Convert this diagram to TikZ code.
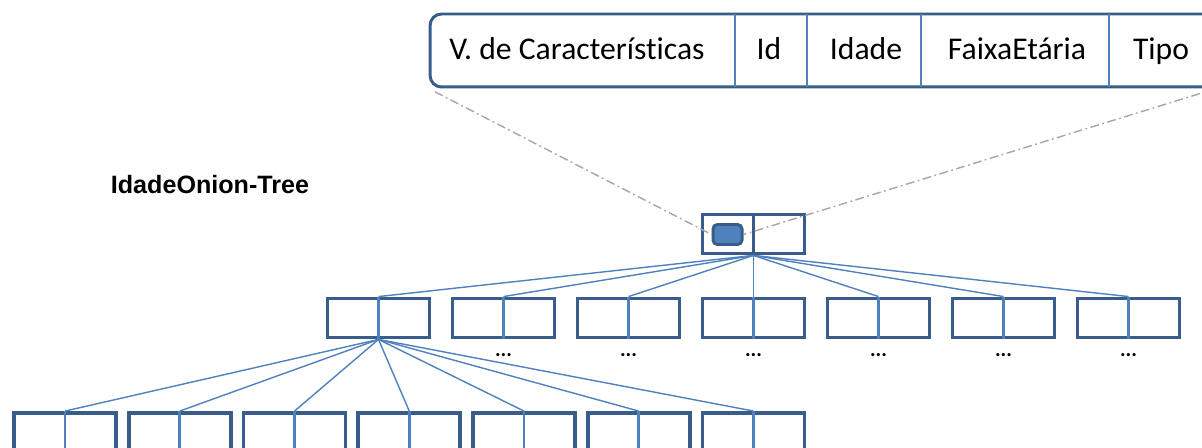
\documentclass[tikz,border=0pt]{standalone}
\usepackage{fontspec}
\setmainfont{Carlito}[Ligatures = NoCommon]
\newfontfamily\arialfont{Liberation Sans}
\usepackage{tikz}
\usetikzlibrary{calc}
\definecolor{AzulEscuro}{HTML}{385D8A}
\definecolor{AzulClaro}{HTML}{4F81BD}
\definecolor{CinzaTraco}{HTML}{A6A6A6}

\tikzset{
  caixa/.style = {draw = AzulEscuro, line width = 2.2pt, minimum width = 2.04cm, minimum height = .78cm, inner sep = 0pt},
  divisor/.style = {draw = AzulClaro, line width = 1.6pt},
  ramo/.style = {draw = AzulClaro, line width = .8pt},
  traco/.style = {draw = CinzaTraco, line width = .8pt, dash pattern = on 5pt off 2pt on 1pt off 2pt},
  campo/.style = {font = \fontsize{18}{22}\selectfont, inner sep = 0pt, anchor = base}
}

\begin{document}
\begin{tikzpicture}[x = .02cm, y = -.02cm]
  \useasboundingbox (0,0) rectangle (1202,448);
  \clip (0,0) rectangle (1202,448);

  % title
  \node[font = \arialfont\bfseries\fontsize{14.3}{17}\selectfont] (titulo) at (210,185) {IdadeOnion-Tree};

  % feature vector
\begin{scope}
    \node[draw = AzulEscuro, line width = 1.7pt, rounded corners = 6.5pt, minimum width = 15.7cm, minimum height = 1.46cm] (vetor) at (822.5,50.5) {};
    \foreach \x in {735, 807, 921, 1109}
      \draw[draw = AzulClaro, line width = .7pt, shorten <= .8pt, shorten >= .8pt] (\x,0 |- vetor.north) -- (\x,0 |- vetor.south);
    \node[campo] (c1) at (577,60) {V. de Características};
    \node[campo] (c2) at (769,60) {Id};
    \node[campo] (c3) at (866,60) {Idade};
    \node[campo] (c4) at (1017,60) {FaixaEtária};
    \node[campo] (c5) at (1161,60) {Tipo};
\end{scope}

  % root
  \node[caixa] (raiz) at (753.5,234) {};
  \draw[draw = AzulEscuro, line width = 1.6pt] (raiz.north) -- (raiz.south);
  \node[draw = AzulEscuro, fill = AzulClaro, line width = 1.7pt, rounded corners = 2.5pt, minimum width = .58cm, minimum height = .4cm, inner sep = 0pt] (chave) at (727.5,234.5) {};
  \draw[traco, shorten <= 4pt] (vetor.south west) -- (chave.west);
  \draw[traco] (vetor.south east) -- (chave.east);

  % levels
  \foreach \i in {1,...,7} {
    \node[caixa] (n\i) at ({378.5 + 125*(\i-1)},318) {};
    \node[caixa] (f\i) at ({65 + 114.75*(\i-1)},432.5) {};
  }
  \foreach \i in {1,...,7} {
    \draw[ramo] (raiz.south) -- (n\i.north);
    \draw[ramo] (n1.south) -- (f\i.north);
    \draw[divisor] (n\i.north) -- (n\i.south);
    \draw[divisor] (f\i.north) -- (f\i.south);
  }
  \foreach \i in {2,...,7}
    \node[font = \bfseries\fontsize{12}{14}\selectfont, inner sep = 0pt] (pt\i) at ($(n\i.south) + (0,16)$) {...};

\end{tikzpicture}
\end{document}
